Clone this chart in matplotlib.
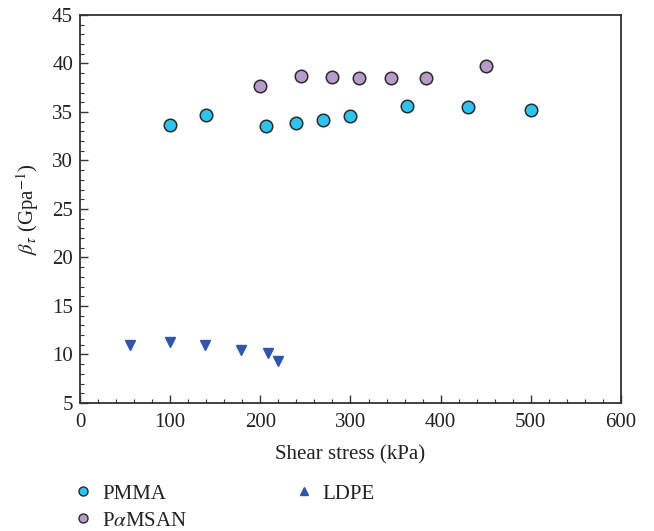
import numpy as np
import matplotlib
matplotlib.use('Agg')
import matplotlib.pyplot as plt
from matplotlib.lines import Line2D
from matplotlib.ticker import MultipleLocator

plt.rcParams['font.family'] = ['Liberation Serif', 'DejaVu Serif']
plt.rcParams['mathtext.fontset'] = 'stix'
plt.rcParams['font.size'] = 15

# shear stress (kPa) and beta_tau (GPa^-1)
pmma_x = [100, 140, 206, 240, 270, 300, 363, 430, 500]
pmma_y = [33.7, 34.7, 33.6, 33.9, 34.2, 34.6, 35.6, 35.5, 35.2]

pamsan_x = [200, 245, 280, 310, 345, 384, 450]
pamsan_y = [37.7, 38.7, 38.6, 38.5, 38.5, 38.5, 39.7]

ldpe_x = [55, 100, 139, 179, 209, 220]
ldpe_y = [11.0, 11.3, 11.0, 10.5, 10.2, 9.3]

c_pmma = '#2ec4f0'
c_pamsan = '#b79bc9'
c_ldpe = '#2f56a8'
edge = '#2a2a2a'

fig = plt.figure(figsize=(6.54, 5.31), dpi=100)
ax = fig.add_axes([0.1223, 0.2411, 0.8272, 0.7307])

ax.plot(pmma_x, pmma_y, 'o', ms=9, mfc=c_pmma, mec=edge, mew=1.1, ls='none')
ax.plot(pamsan_x, pamsan_y, 'o', ms=9, mfc=c_pamsan, mec=edge, mew=1.1, ls='none')
ax.plot(ldpe_x, ldpe_y, 'v', ms=7.5, mfc=c_ldpe, mec=c_ldpe, ls='none')

ax.set_xlim(0, 600)
ax.set_ylim(5, 45)
ax.xaxis.set_major_locator(MultipleLocator(100))
ax.xaxis.set_minor_locator(MultipleLocator(20))
ax.yaxis.set_major_locator(MultipleLocator(5))
ax.yaxis.set_minor_locator(MultipleLocator(1))
ax.tick_params(which='both', direction='in', colors='#333333', labelcolor='#222222')
ax.tick_params(which='major', length=6, width=1)
ax.tick_params(which='minor', length=3, width=0.8)
ax.tick_params(axis='x', which='major', pad=7)
ax.tick_params(axis='y', which='major', pad=5)
for s in ax.spines.values():
    s.set_color('#333333')
    s.set_linewidth(1.3)

ax.set_xlabel('Shear stress (kPa)', color='#222222', labelpad=10)
ax.set_ylabel(r'$\beta_\tau$ (Gpa$^{-1}$)', color='#222222', labelpad=8)

# legend below the axes, small markers (LDPE shown as an up triangle)
handles = [
    Line2D([], [], marker='o', ls='none', ms=6.5, mfc=c_pmma, mec=edge, mew=1.0),
    Line2D([], [], marker='o', ls='none', ms=6.5, mfc=c_pamsan, mec=edge, mew=1.0),
    Line2D([], [], marker='^', ls='none', ms=6, mfc=c_ldpe, mec=c_ldpe),
]
labels = ['PMMA', r'P$\alpha$MSAN', 'LDPE']
fig.legend(handles, labels, ncol=2, frameon=False, loc='upper left',
           bbox_to_anchor=(0.0924, 0.1078), handletextpad=0.3, columnspacing=5.0,
           labelspacing=0.35, handlelength=1.2, borderpad=0,
           labelcolor='#222222')

fig.savefig('out.png', dpi=100)
